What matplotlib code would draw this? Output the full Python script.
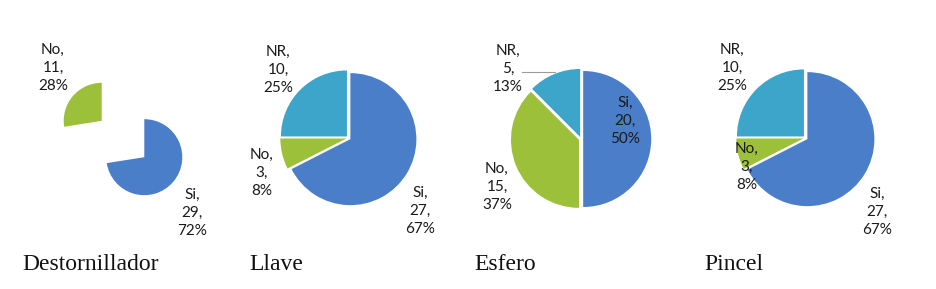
import matplotlib
matplotlib.use('Agg')
import matplotlib.pyplot as plt

# ---- data ----
titles = ['Destornillador', 'Llave', 'Esfero', 'Pincel']

destornillador_cats = ['Si', 'No']
destornillador_vals = [29, 11]
destornillador_pct = [72, 28]

llave_cats = ['Si', 'No', 'NR']
llave_vals = [27, 3, 10]
llave_pct = [67, 8, 25]

esfero_cats = ['Si', 'No', 'NR']
esfero_vals = [20, 15, 5]
esfero_pct = [50, 37, 13]

pincel_cats = ['Si', 'No', 'NR']
pincel_vals = [27, 3, 10]
pincel_pct = [67, 8, 25]

colors = {'Si': '#4A7EC8', 'No': '#9DC03A', 'NR': '#3DA5C9'}

# ---- layout (pixel coordinates, image y measured from top) ----
W, H = 937, 289
layout = [
    dict(center=(123, 139), radius=38, explode=28,
         labels={'Si': (192, 213), 'No': (53, 68)}, title_x=22),
    dict(center=(348.5, 138), radius=66, explode=2.2,
         labels={'Si': (420, 211), 'No': (262, 173), 'NR': (278, 70)}, title_x=249),
    dict(center=(581, 139), radius=68, explode=2.2,
         labels={'Si': (625, 121), 'No': (497, 187), 'NR': (508, 69)}, title_x=474),
    dict(center=(805.5, 138), radius=67, explode=2.2,
         labels={'Si': (877, 212), 'No': (747, 167), 'NR': (732, 68)}, title_x=704),
]

charts = [
    (destornillador_cats, destornillador_vals, destornillador_pct),
    (llave_cats, llave_vals, llave_pct),
    (esfero_cats, esfero_vals, esfero_pct),
    (pincel_cats, pincel_vals, pincel_pct),
]

fig = plt.figure(figsize=(W / 100, H / 100), dpi=100)
ax = fig.add_axes([0, 0, 1, 1])

label_font = dict(family=['Lato', 'DejaVu Sans'], size=11, color='#1a1a1a')

for (cats, vals, pcts), lay, title in zip(charts, layout, titles):
    cx, cy = lay['center']
    ax.pie(vals, colors=[colors[c] for c in cats],
           explode=[lay['explode']] * len(vals),
           startangle=90, counterclock=False,
           center=(cx, H - cy), radius=lay['radius'],
           wedgeprops=dict(linewidth=0), frame=True)
    for c, v, p in zip(cats, vals, pcts):
        lx, ly = lay['labels'][c]
        ax.text(lx, H - ly, f'{c},\n{v},\n{p}%', ha='center', va='center',
                linespacing=1.35, **label_font)
    ax.text(lay['title_x'], H - 265, title, ha='left', va='center',
            family='Liberation Serif', size=17, color='#111111')

# leader line for Esfero NR label
ax.plot([522, 555], [H - 72, H - 72], color='#9a9a9a', linewidth=0.8)

ax.set_xlim(0, W)
ax.set_ylim(0, H)
ax.set_aspect('equal')
ax.axis('off')
fig.savefig('out.png', dpi=100, facecolor='white')
